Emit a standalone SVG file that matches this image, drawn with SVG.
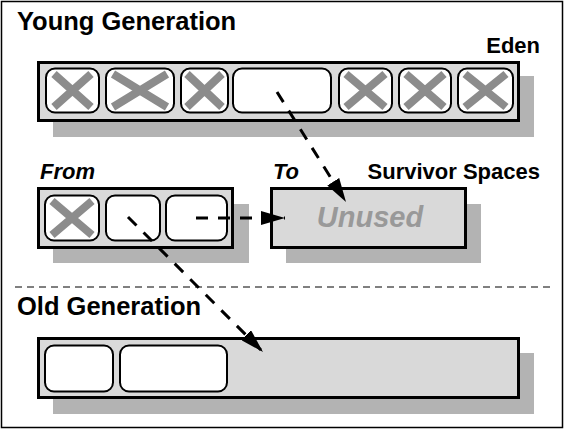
<svg xmlns="http://www.w3.org/2000/svg" width="565" height="430" viewBox="0 0 565 430">
<style>
.lbl{font-family:"Liberation Sans",Arial,sans-serif;font-weight:bold;fill:#000}
.it{font-style:italic}
.box{fill:#d9d9d9;stroke:#000;stroke-width:3}
.shadow{fill:#b3b3b3;stroke:none}
.cell{fill:#fff;stroke:#000;stroke-width:2}
.x{stroke:#8c8c8c;stroke-width:8;fill:none}
.arrow{stroke:#000;stroke-width:3;stroke-dasharray:12 10;fill:none}
</style>
<defs>
<marker id="ah" markerUnits="userSpaceOnUse" markerWidth="24" markerHeight="14" refX="24" refY="7" orient="auto">
<path d="M0,0 L24,7 L0,14 Z" fill="#000"/>
</marker>
</defs>
<rect x="0" y="0" width="565" height="430" fill="#fff"/>
<rect x="1.5" y="1.5" width="561" height="426" fill="none" stroke="#000" stroke-width="1.5"/>

<text class="lbl" x="17" y="30" font-size="25.5">Young Generation</text>
<line x1="15" y1="287" x2="552" y2="287" stroke="#000" stroke-width="1" stroke-dasharray="7 5"/>
<text class="lbl" x="17" y="315" font-size="25.5">Old Generation</text>

<g id="eden">
<rect class="shadow" x="53" y="76" width="481" height="61"/>
<rect class="box" x="38.5" y="62.5" width="480" height="58"/>
<rect class="cell" x="46" y="68.5" width="53" height="44" rx="9"/>
<path class="x" d="M54,74 L91,107 M54,107 L91,74"/>
<rect class="cell" x="106" y="68.5" width="68" height="44" rx="9"/>
<path class="x" d="M113,74 L167,107 M113,107 L167,74"/>
<rect class="cell" x="181" y="68.5" width="47" height="44" rx="9"/>
<path class="x" d="M187,74 L222,107 M187,107 L222,74"/>
<rect class="cell" x="233" y="68.5" width="98" height="44" rx="9"/>
<rect class="cell" x="339" y="68.5" width="53" height="44" rx="9"/>
<path class="x" d="M346,74 L385,107 M346,107 L385,74"/>
<rect class="cell" x="399" y="68.5" width="52" height="44" rx="9"/>
<path class="x" d="M406,74 L444,107 M406,107 L444,74"/>
<rect class="cell" x="458" y="68.5" width="55" height="44" rx="9"/>
<path class="x" d="M465,74 L506,107 M465,107 L506,74"/>
<text class="lbl" x="540" y="53" font-size="22" text-anchor="end">Eden</text>
</g>

<g id="from">
<rect class="shadow" x="53" y="204" width="196" height="59"/>
<rect class="box" x="38.5" y="188.5" width="194" height="59"/>
<rect class="cell" x="45" y="195.5" width="54" height="45" rx="9"/>
<path class="x" d="M52,201 L92,235 M52,235 L92,201"/>
<rect class="cell" x="106" y="195.5" width="54" height="45" rx="9"/>
<rect class="cell" x="166" y="195.5" width="61" height="45" rx="9"/>
<text class="lbl it" x="40" y="179" font-size="22">From</text>
</g>

<g id="to">
<rect class="shadow" x="286" y="204" width="195" height="59"/>
<rect class="box" x="271.5" y="188.5" width="194" height="59"/>
<text class="lbl it" x="370" y="227" font-size="29" text-anchor="middle" style="fill:#999">Unused</text>
<text class="lbl it" x="273" y="179" font-size="22">To</text>
<text class="lbl" x="540" y="179" font-size="22" text-anchor="end">Survivor Spaces</text>
</g>

<g id="old">
<rect class="shadow" x="53" y="353" width="481" height="61"/>
<rect class="box" x="38.5" y="338.5" width="480" height="59"/>
<rect class="cell" x="45" y="345.5" width="68" height="46" rx="9"/>
<rect class="cell" x="120" y="345.5" width="107" height="46" rx="9"/>
</g>

<g id="connectors">
<line class="arrow" x1="277" y1="92" x2="346" y2="202" marker-end="url(#ah)"/>
<line class="arrow" x1="196" y1="218" x2="285" y2="218" marker-end="url(#ah)"/>
<line class="arrow" x1="128" y1="217" x2="263" y2="352" marker-end="url(#ah)"/>
</g>
</svg>
